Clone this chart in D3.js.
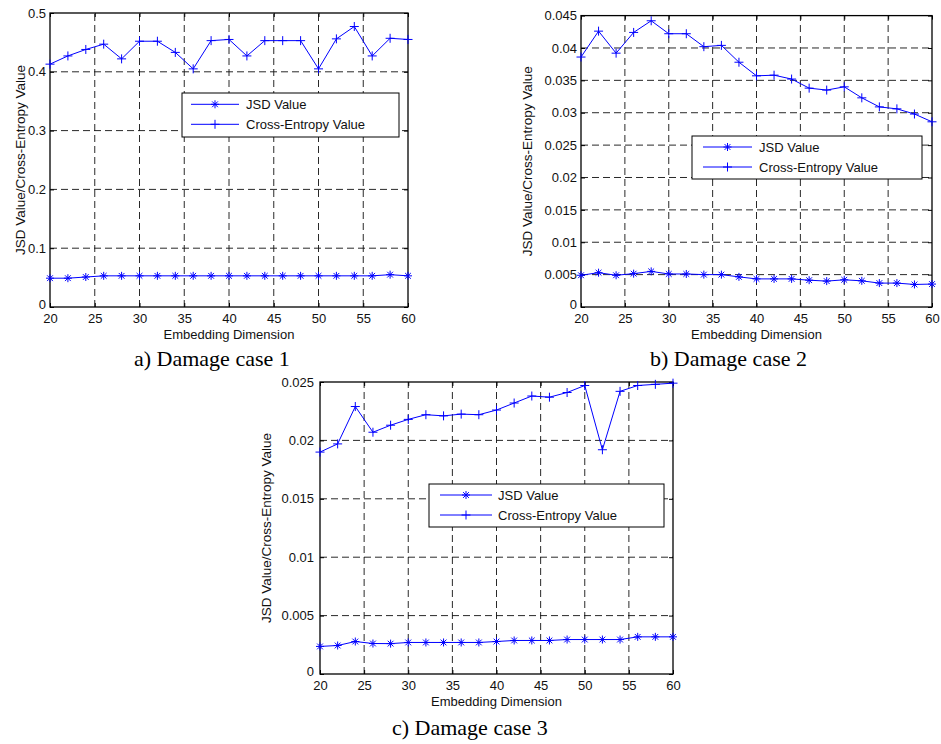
<!DOCTYPE html>
<html>
<head>
<meta charset="utf-8">
<script src="https://cdn.jsdelivr.net/npm/d3@7"></script>
<style>
  body { margin: 0; background: #fff; }
  svg { display: block; }
</style>
</head>
<body>
<svg id="chart" width="941" height="744"></svg>
<script>
// embedding dimensions (x)
const dims = [20, 22, 24, 26, 28, 30, 32, 34, 36, 38, 40, 42, 44, 46, 48, 50, 52, 54, 56, 58, 60];
const xTicks = [20, 25, 30, 35, 40, 45, 50, 55, 60];

// case 1
const jsdA = [0.049, 0.049, 0.051, 0.053, 0.053, 0.053, 0.053, 0.053, 0.053, 0.053, 0.053,
              0.053, 0.053, 0.053, 0.053, 0.053, 0.053, 0.053, 0.053, 0.055, 0.053];
const ceA = [0.413, 0.427, 0.438, 0.447, 0.422, 0.452, 0.452, 0.433, 0.405, 0.453, 0.455,
             0.427, 0.453, 0.453, 0.453, 0.405, 0.456, 0.477, 0.427, 0.457, 0.455];
const yTicksA = [0, 0.1, 0.2, 0.3, 0.4, 0.5];
const yLabelsA = ["0", "0.1", "0.2", "0.3", "0.4", "0.5"];

// case 2
const jsdB = [0.0049, 0.0053, 0.0049, 0.00515, 0.0055, 0.0051, 0.0051, 0.0050, 0.0050, 0.00465, 0.00434,
              0.00434, 0.00434, 0.00414, 0.0040, 0.0042, 0.00404, 0.00369, 0.00369, 0.00348, 0.00354];
const ceB = [0.0386, 0.0426, 0.0392, 0.0424, 0.0442, 0.0422, 0.0422, 0.0402, 0.0404, 0.0378, 0.0357,
             0.0358, 0.0352, 0.0338, 0.0335, 0.0340, 0.0323, 0.0309, 0.0306, 0.0298, 0.0286];
const yTicksB = [0, 0.005, 0.01, 0.015, 0.02, 0.025, 0.03, 0.035, 0.04, 0.045];
const yLabelsB = ["0", "0.005", "0.01", "0.015", "0.02", "0.025", "0.03", "0.035", "0.04", "0.045"];

// case 3
const jsdC = [0.00236, 0.00244, 0.00278, 0.00261, 0.0026, 0.0027, 0.0027, 0.0027, 0.0027, 0.0027, 0.00278,
              0.00287, 0.00287, 0.00287, 0.00295, 0.00295, 0.00295, 0.00295, 0.00318, 0.00318, 0.00318];
const ceC = [0.0190, 0.0197, 0.0229, 0.0207, 0.0213, 0.0218, 0.0222, 0.0221, 0.02225, 0.0222, 0.0226,
             0.0232, 0.0238, 0.0237, 0.0241, 0.0247, 0.0192, 0.0242, 0.0247, 0.0248, 0.0249];
const yTicksC = [0, 0.005, 0.01, 0.015, 0.02, 0.025];
const yLabelsC = ["0", "0.005", "0.01", "0.015", "0.02", "0.025"];

const seriesNames = ["JSD Value", "Cross-Entropy Value"];
const yTitle = "JSD Value/Cross-Entropy Value";
const xTitle = "Embedding Dimension";

const blue = "#0000ff";
const sans = "'Liberation Sans', Arial, sans-serif";
const serif = "'Liberation Serif', 'Times New Roman', serif";

// panel layouts (pixel boxes)
const panels = [
  { jsd: jsdA, ce: ceA, yTicks: yTicksA, yLabels: yLabelsA, yMax: 0.5,
    left: 50, right: 408, top: 13, bottom: 307, labelPad: 4, yTitleX: 25,
    legend: { x0: 182, x1: 399, y0: 93, y1: 137, lx0: 191, lx1: 239, tx: 246, rows: [104.3, 124.3] },
    caption: "a) Damage case 1", capX: 134, capY: 366 },
  { jsd: jsdB, ce: ceB, yTicks: yTicksB, yLabels: yLabelsB, yMax: 0.045,
    left: 581, right: 932, top: 15.6, bottom: 307, labelPad: 4, yTitleX: 532,
    legend: { x0: 692, x1: 922, y0: 136, y1: 179, lx0: 703, lx1: 752, tx: 759, rows: [147, 167] },
    caption: "b) Damage case 2", capX: 650, capY: 366 },
  { jsd: jsdC, ce: ceC, yTicks: yTicksC, yLabels: yLabelsC, yMax: 0.025,
    left: 320, right: 673, top: 382, bottom: 674, labelPad: 6, yTitleX: 271,
    legend: { x0: 429, x1: 664, y0: 484, y1: 527, lx0: 440, lx1: 492, tx: 498, rows: [495, 515] },
    caption: "c) Damage case 3", capX: 392, capY: 735 }
];

const svg = d3.select("#chart");

// marker shapes
function plusPath(s) { return `M${-s},0H${s}M0,${-s}V${s}`; }
function starPath(s) {
  const d = s * 0.72;
  return `M${-s},0H${s}M0,${-s}V${s}M${-d},${-d}L${d},${d}M${-d},${d}L${d},${-d}`;
}

function drawMarker(g, x, y, kind) {
  g.append("path")
    .attr("transform", `translate(${x},${y})`)
    .attr("d", kind === "star" ? starPath(4) : plusPath(4.5))
    .attr("fill", "none")
    .attr("stroke", blue)
    .attr("stroke-width", 1);
}

panels.forEach(p => {
  const x = d3.scaleLinear().domain([20, 60]).range([p.left, p.right]);
  const y = d3.scaleLinear().domain([0, p.yMax]).range([p.bottom, p.top]);
  const g = svg.append("g");

  // dashed grid
  const grid = g.append("g").attr("stroke", "#111").attr("stroke-width", 0.9)
    .attr("stroke-dasharray", "7,4");
  xTicks.slice(1, -1).forEach(t => {
    grid.append("line").attr("x1", x(t)).attr("x2", x(t))
      .attr("y1", p.bottom).attr("y2", p.top);
  });
  p.yTicks.slice(1, -1).forEach(t => {
    grid.append("line").attr("x1", p.left).attr("x2", p.right)
      .attr("y1", y(t)).attr("y2", y(t));
  });

  // axes (ticks inward)
  const xAxis = g.append("g").attr("transform", `translate(0,${p.bottom})`)
    .call(d3.axisBottom(x).tickValues(xTicks).tickSize(-4).tickPadding(6.5).tickFormat(d3.format("d")));
  const yAxis = g.append("g").attr("transform", `translate(${p.left},0)`)
    .call(d3.axisLeft(y).tickValues(p.yTicks).tickSize(-4).tickPadding(p.labelPad)
      .tickFormat((d, i) => p.yLabels[i]));
  g.append("g").attr("transform", `translate(0,${p.top})`)
    .call(d3.axisTop(x).tickValues(xTicks).tickSize(-4).tickFormat(""));
  g.append("g").attr("transform", `translate(${p.right},0)`)
    .call(d3.axisRight(y).tickValues(p.yTicks).tickSize(-4).tickFormat(""));

  g.selectAll(".domain").remove();
  g.selectAll(".tick line").attr("stroke", "#000");
  [xAxis, yAxis].forEach(a => a.selectAll("text")
    .attr("font-family", sans).attr("font-size", 13).attr("fill", "#111"));
  // keep the "0" label just clear of the first x label
  yAxis.selectAll(".tick text").attr("dy", d => d === 0 ? "0.15em" : "0.32em");

  // box
  g.append("rect").attr("x", p.left).attr("y", p.top)
    .attr("width", p.right - p.left).attr("height", p.bottom - p.top)
    .attr("fill", "none").attr("stroke", "#000").attr("stroke-width", 1.3);

  // series
  const line = d3.line().x((d, i) => x(dims[i])).y(d => y(d));
  [[p.jsd, "star"], [p.ce, "plus"]].forEach(([vals, kind]) => {
    g.append("path").datum(vals).attr("d", line)
      .attr("fill", "none").attr("stroke", blue).attr("stroke-width", 1);
    vals.forEach((v, i) => drawMarker(g, x(dims[i]), y(v), kind));
  });

  // legend
  const L = p.legend;
  g.append("rect").attr("x", L.x0).attr("y", L.y0)
    .attr("width", L.x1 - L.x0).attr("height", L.y1 - L.y0)
    .attr("fill", "#fff").attr("stroke", "#000").attr("stroke-width", 1);
  seriesNames.forEach((name, i) => {
    const ly = L.rows[i];
    g.append("line").attr("x1", L.lx0).attr("x2", L.lx1).attr("y1", ly).attr("y2", ly)
      .attr("stroke", blue).attr("stroke-width", 1);
    drawMarker(g, (L.lx0 + L.lx1) / 2, ly, i === 0 ? "star" : "plus");
    g.append("text").attr("x", L.tx).attr("y", ly + 4.7)
      .attr("font-family", sans).attr("font-size", 13).attr("fill", "#111")
      .text(name);
  });

  // axis titles
  g.append("text")
    .attr("x", (p.left + p.right) / 2).attr("y", p.bottom + 32)
    .attr("text-anchor", "middle").attr("font-family", sans).attr("font-size", 13)
    .attr("fill", "#111").text(xTitle);
  g.append("text")
    .attr("transform", `translate(${p.yTitleX},${(p.top + p.bottom) / 2}) rotate(-90)`)
    .attr("text-anchor", "middle").attr("font-family", sans).attr("font-size", 13.5)
    .attr("fill", "#111").text(yTitle);

  // caption
  g.append("text").attr("x", p.capX).attr("y", p.capY)
    .attr("font-family", serif).attr("font-size", 22).attr("fill", "#000")
    .text(p.caption);
});
</script>
</body>
</html>
